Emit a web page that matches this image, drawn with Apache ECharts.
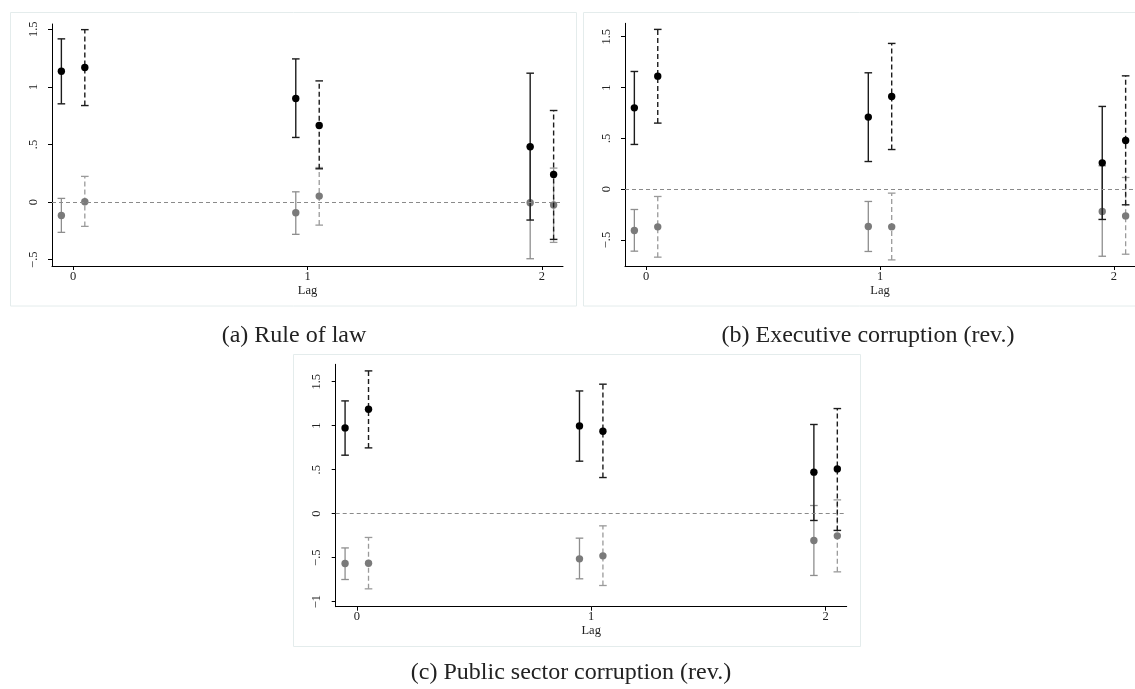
<!DOCTYPE html>
<html>
<head>
<meta charset="utf-8">
<script src="https://cdn.jsdelivr.net/npm/echarts@6/dist/echarts.min.js"></script>
<style>
  html, body { margin: 0; padding: 0; background: #fff; }
  #chart { width: 1135px; height: 689px; }
</style>
</head>
<body>
<div id="chart"></div>
<script>
// Lags on the x axis and tick values shown on each panel
const lags = [0, 1, 2];
const lagLabels = ['0', '1', '2'];
const yTicksAB = [-0.5, 0, 0.5, 1, 1.5];
const yTicksC = [-1, -0.5, 0, 0.5, 1, 1.5];
const captions = ['(a) Rule of law', '(b) Executive corruption (rev.)', '(c) Public sector corruption (rev.)'];

// Each row: [estimate, lower bound, upper bound] for lag 0, 1, 2
// (a) Rule of law
const lawBlackSolid = [[1.136, 0.853, 1.417], [0.899, 0.561, 1.243], [0.48, -0.156, 1.119]];
const lawBlackDashed = [[1.168, 0.838, 1.497], [0.665, 0.289, 1.052], [0.24, -0.324, 0.795]];
const lawGraySolid = [[-0.116, -0.263, 0.032], [-0.093, -0.28, 0.089], [-0.006, -0.492, 0.48]];
const lawGrayDashed = [[0.003, -0.211, 0.223], [0.052, -0.2, 0.30], [-0.026, -0.35, 0.295]];

// (b) Executive corruption (rev.)
const execBlackSolid = [[0.80, 0.44, 1.158], [0.709, 0.272, 1.145], [0.259, -0.298, 0.814]];
const execBlackDashed = [[1.112, 0.65, 1.572], [0.912, 0.39, 1.434], [0.479, -0.154, 1.115]];
const execGraySolid = [[-0.407, -0.61, -0.2], [-0.367, -0.613, -0.121], [-0.22, -0.66, 0.23]];
const execGrayDashed = [[-0.371, -0.669, -0.072], [-0.371, -0.696, -0.039], [-0.263, -0.64, 0.115]];

// (c) Public sector corruption (rev.)
const pubBlackSolid = [[0.975, 0.665, 1.282], [0.998, 0.597, 1.395], [0.472, -0.077, 1.014]];
const pubBlackDashed = [[1.187, 0.748, 1.623], [0.9375, 0.411, 1.472], [0.509, -0.19, 1.195]];
const pubGraySolid = [[-0.566, -0.748, -0.389], [-0.513, -0.74, -0.278], [-0.305, -0.702, 0.093]];
const pubGrayDashed = [[-0.563, -0.854, -0.27], [-0.479, -0.816, -0.138], [-0.252, -0.661, 0.157]];

const SERIF = '"Liberation Serif", "DejaVu Serif", serif';
const SHIFT = 0.05; // horizontal dodge between the two specifications

const fmtTick = v => {
  if (v === 0) return '0';
  const s = Math.abs(v) % 1 === 0 ? String(Math.abs(v)) : String(Math.abs(v)).replace(/^0/, '');
  return (v < 0 ? '\u2212' : '') + s;
};

function barSeries(idx, rows, side, style) {
  return {
    type: 'custom',
    xAxisIndex: idx,
    yAxisIndex: idx,
    z: style.z,
    silent: true,
    data: lags.map((l, i) => [l + side * SHIFT, rows[i][0], rows[i][1], rows[i][2]]),
    renderItem: (params, api) => {
      const x = api.value(0);
      const e = api.coord([x, api.value(1)]);
      const lo = api.coord([x, api.value(2)]);
      const hi = api.coord([x, api.value(3)]);
      const cw = 3.8;
      const lineStyle = { stroke: style.color, lineWidth: style.width, lineDash: style.dash || null };
      const capStyle = { stroke: style.color, lineWidth: style.width };
      return {
        type: 'group',
        children: [
          { type: 'line', shape: { x1: lo[0], y1: lo[1], x2: hi[0], y2: hi[1] }, style: lineStyle },
          { type: 'line', shape: { x1: lo[0] - cw, y1: lo[1], x2: lo[0] + cw, y2: lo[1] }, style: capStyle },
          { type: 'line', shape: { x1: hi[0] - cw, y1: hi[1], x2: hi[0] + cw, y2: hi[1] }, style: capStyle },
          { type: 'circle', shape: { cx: e[0], cy: e[1], r: 3.7 }, style: { fill: style.dot } }
        ]
      };
    }
  };
}

const blackSolid = { color: '#1c1c1c', width: 1.4, dot: '#000', z: 4 };
const blackDashed = { color: '#1c1c1c', width: 1.4, dash: [5, 3], dot: '#000', z: 4 };
const graySolid = { color: '#8e8e8e', width: 1.3, dot: '#7a7a7a', z: 3 };
const grayDashed = { color: '#9a9a9a', width: 1.3, dash: [5, 3], dot: '#7a7a7a', z: 3 };

const panels = [
  { grid: { left: 52, top: 24, width: 511, height: 242 }, ymin: -0.555, ymax: 1.546, ticks: yTicksAB,
    rows: [lawBlackSolid, lawBlackDashed, lawGraySolid, lawGrayDashed] },
  { grid: { left: 625, top: 23.3, width: 511, height: 242.7 }, ymin: -0.756, ymax: 1.632, ticks: yTicksAB,
    rows: [execBlackSolid, execBlackDashed, execGraySolid, execGrayDashed] },
  { grid: { left: 335.7, top: 364.3, width: 511, height: 242.4 }, ymin: -1.057, ymax: 1.698, ticks: yTicksC,
    rows: [pubBlackSolid, pubBlackDashed, pubGraySolid, pubGrayDashed] }
];

const grids = [], xAxes = [], yAxes = [], series = [];
panels.forEach((p, i) => {
  grids.push(p.grid);
  xAxes.push({
    type: 'value', gridIndex: i, min: -0.09, max: 2.09,
    name: 'Lag', nameLocation: 'middle', nameGap: 17,
    nameTextStyle: { fontFamily: SERIF, fontSize: 12.5, color: '#222' },
    axisLine: { show: true, onZero: false, lineStyle: { color: '#000', width: 1 } },
    axisTick: { show: true, length: 4, customValues: lags, lineStyle: { color: '#000' } },
    axisLabel: { customValues: lags, formatter: v => lagLabels[lags.indexOf(v)] ?? '', margin: 4,
      fontFamily: SERIF, fontSize: 12.5, color: '#222' },
    splitLine: { show: false }
  });
  yAxes.push({
    type: 'value', gridIndex: i, min: p.ymin, max: p.ymax,
    axisLine: { show: true, onZero: false, lineStyle: { color: '#000', width: 1 } },
    axisTick: { show: true, length: 4, customValues: p.ticks, lineStyle: { color: '#000' } },
    axisLabel: { customValues: p.ticks, formatter: fmtTick, rotate: 90, margin: 12,
      fontFamily: SERIF, fontSize: 12.5, color: '#222' },
    splitLine: { show: false }
  });
  const styles = [blackSolid, blackDashed, graySolid, grayDashed];
  const sides = [-1, 1, -1, 1];
  // gray series first so the black ones sit on top
  [2, 3, 0, 1].forEach(k => series.push(barSeries(i, p.rows[k], sides[k], styles[k])));
  // reference line at zero
  series.push({
    type: 'line', xAxisIndex: i, yAxisIndex: i, data: [], silent: true,
    markLine: { symbol: 'none', silent: true, label: { show: false },
      lineStyle: { color: '#8a8a8a', type: [4, 3], width: 1 }, data: [{ yAxis: 0 }] }
  });
});

const frame = (x, y, w, h) => ({
  type: 'rect', shape: { x, y, width: w, height: h }, silent: true, z: -1,
  style: { fill: '#fff', stroke: '#e4ecec', lineWidth: 1 }
});
const caption = (text, x, y) => ({
  type: 'text', x, y, silent: true,
  style: { text, align: 'center', verticalAlign: 'middle', font: '24px ' + SERIF, fill: '#222' }
});

const chart = echarts.init(document.getElementById('chart'), null, { renderer: 'canvas' });
chart.setOption({
  backgroundColor: '#fff',
  animation: false,
  graphic: [
    frame(10.5, 12.5, 566, 293.5),
    frame(583.5, 12.5, 560, 293.5),
    frame(293.5, 354.5, 567, 292),
    caption(captions[0], 294, 336),
    caption(captions[1], 868, 336),
    caption(captions[2], 571, 673)
  ],
  grid: grids,
  xAxis: xAxes,
  yAxis: yAxes,
  series: series
});
</script>
</body>
</html>
